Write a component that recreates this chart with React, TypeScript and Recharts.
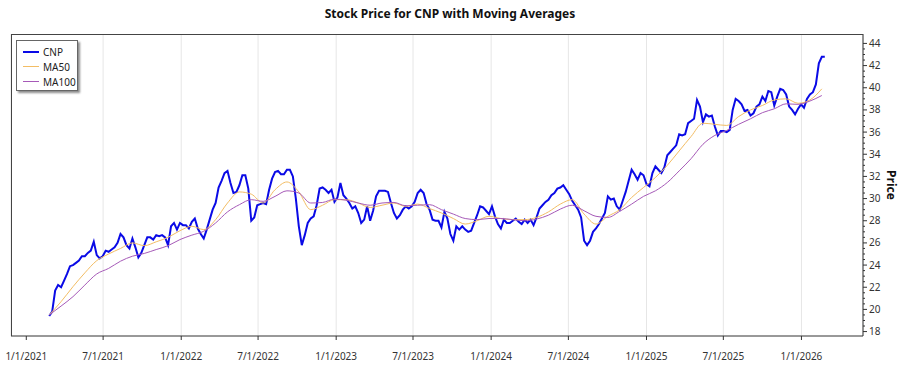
import { LineChart, Line, XAxis, YAxis, CartesianGrid } from "recharts";

// weekly closes, starting at the first trading week shown
const startDate = "2021-02-24";
const cnpWeekly = [
  19.4, 19.8, 21.7, 22.2, 22.0, 22.6, 23.2, 23.9, 24.0, 24.2,
  24.4, 24.8, 24.8, 25.1, 25.3, 26.1, 24.9, 24.6, 24.8, 25.3,
  25.2, 25.4, 25.6, 26.0, 26.8, 26.5, 25.8, 25.5, 26.4, 25.6,
  24.7, 25.1, 25.8, 26.5, 26.5, 26.3, 26.7, 26.6, 26.7, 26.5,
  25.8, 27.5, 27.8, 27.2, 27.8, 27.6, 27.6, 27.3, 27.9, 28.2,
  27.3, 26.8, 26.4, 27.2, 28.1, 29.0, 29.6, 31.0, 31.6, 32.3,
  32.5, 31.4, 30.5, 30.6, 31.2, 32.1, 32.1, 30.9, 28.0, 28.3,
  29.4, 29.5, 29.6, 29.5, 30.8, 31.8, 32.4, 32.5, 32.2, 32.2,
  32.6, 32.6, 32.0, 30.0, 27.5, 25.8, 26.7, 27.8, 28.2, 28.4,
  29.4, 30.9, 31.0, 30.8, 30.5, 30.8, 29.7, 30.1, 31.4, 30.3,
  30.0, 29.6, 29.1, 29.3, 28.7, 27.8, 28.1, 29.3, 28.0, 28.9,
  30.2, 30.7, 30.7, 30.7, 30.6, 29.6, 28.7, 28.2, 28.5, 29.0,
  29.3, 29.1, 29.3, 29.7, 30.5, 30.8, 30.5, 29.5, 29.0, 28.1,
  28.0, 28.0, 27.4, 28.8, 28.2, 26.8, 26.2, 27.5, 27.2, 27.5,
  27.2, 27.0, 27.1, 27.8, 28.5, 29.3, 29.2, 28.9, 28.6, 29.3,
  28.4, 27.7, 27.3, 28.1, 27.8, 27.8, 28.0, 28.2, 27.9, 27.7,
  28.1, 27.8, 28.1, 27.6, 28.3, 29.1, 29.4, 29.7, 29.9, 30.3,
  30.5, 30.9, 31.0, 31.2, 30.8, 30.4, 29.8, 29.4, 29.0, 28.3,
  26.2, 25.8, 26.2, 27.0, 27.3, 27.7, 28.2, 28.7, 30.2, 29.9,
  30.0, 29.3, 29.0, 29.8, 30.6, 31.6, 32.6, 32.2, 31.7, 32.3,
  32.1, 31.3, 31.1, 32.3, 32.9, 32.6, 32.3, 32.8, 33.9, 34.2,
  34.5, 34.8, 35.8, 35.7, 35.8, 36.8, 37.0, 37.2, 38.9, 38.3,
  36.9, 37.6, 37.4, 37.5, 36.5, 35.7, 36.1, 36.1, 36.0, 36.2,
  38.0, 39.0, 38.8, 38.5, 37.9, 38.0, 37.5, 37.7, 38.3, 38.5,
  39.2, 38.8, 39.7, 39.6, 38.4, 39.2, 39.9, 39.8, 39.4, 38.3,
  38.0, 37.6, 38.1, 38.5, 38.2, 39.0, 39.4, 39.6, 40.3, 42.2,
  42.8, 42.8,
];

// moving averages, one reading every 4 weeks
const maStepWeeks = 4;
const ma50 = [
  19.5, 20.7, 22.05, 23.3, 24.4, 25.0, 25.5, 26.0, 25.75, 26.1,
  26.5, 27.1, 27.5, 27.2, 28.1, 29.6, 30.6, 30.4, 29.6, 30.8,
  31.5, 30.6, 29.0, 29.4, 29.9, 29.9, 29.6, 29.2, 29.4, 29.6,
  29.3, 29.5, 29.1, 28.7, 28.2, 27.7, 28.0, 28.4, 28.2, 28.1,
  28.1, 28.3, 28.8, 29.5, 29.9, 28.6, 27.7, 28.4, 29.0, 30.1,
  31.0, 31.9, 33.0, 34.3, 35.6, 36.8, 36.7, 36.6, 37.4, 38.0,
  38.4, 38.9, 39.0, 38.6, 38.9, 39.9,
];
const ma100 = [
  19.5, 20.3, 21.15, 22.2, 23.2, 23.7, 24.35, 24.8, 25.05, 25.4,
  25.75, 26.3, 26.7, 27.05, 27.8, 28.8, 29.45, 29.9, 29.75, 30.2,
  30.7, 30.5, 29.6, 29.65, 29.95, 29.85, 29.6, 29.4, 29.6, 29.65,
  29.35, 29.4, 29.45, 29.0, 28.6, 28.2, 28.1, 28.2, 28.2, 28.1,
  28.0, 28.15, 28.5, 29.05, 29.4, 28.9, 28.4, 28.3, 28.85, 29.5,
  30.2, 30.7, 31.45, 32.5, 33.6, 34.9, 35.7, 36.15, 36.7, 37.2,
  37.75, 38.1, 38.55, 38.5, 38.8, 39.3,
];

const xTicks = [
  "2021-01-01", "2021-07-01", "2022-01-01", "2022-07-01", "2023-01-01", "2023-07-01",
  "2024-01-01", "2024-07-01", "2025-01-01", "2025-07-01", "2026-01-01",
];
const yTicks = [18, 20, 22, 24, 26, 28, 30, 32, 34, 36, 38, 40, 42, 44];
const seriesNames = ["CNP", "MA50", "MA100"];
const seriesColors = ["#0a0ae6", "#f3bd64", "#a65ab8"];

const DAY = 86400000;
const t0 = Date.parse(startDate);
const priceRows = cnpWeekly.map((v, i) => ({ t: t0 + i * 7 * DAY, price: v }));
const maRows = ma50.map((v, i) => ({ t: t0 + i * maStepWeeks * 7 * DAY, ma50: v, ma100: ma100[i] }));
const tEnd = priceRows[priceRows.length - 1].t;
const xDomain = [t0 - 90 * DAY, tEnd + 90 * DAY];
const xTickTimes = xTicks.map((d) => Date.parse(d));
const yAllTicks = yTicks.flatMap((v, i) => (i < yTicks.length - 1 ? [v, v + 0.5, v + 1, v + 1.5] : [v]));

const font = '"Segoe UI", "Noto Sans", sans-serif';
const W = 900;
const H = 375;
const margin = { top: 34, right: 0, bottom: 0, left: 11 };
const xAxisH = 39;
const yAxisW = 37;

const fmtDate = (t: number) => {
  const d = new Date(t);
  return `${d.getUTCMonth() + 1}/${d.getUTCDate()}/${d.getUTCFullYear()}`;
};

function PriceTick(props: any) {
  const { x, y, payload } = props;
  const v = payload.value as number;
  const major = yTicks.includes(v);
  return (
    <g>
      <line x1={x} x2={x + (major ? 4 : 2)} y1={y} y2={y} stroke="#333" />
      {major && (
        <text x={x + 6} y={y} dy={3.5} fontSize={10} fill="#333" fontFamily={font}>
          {v}
        </text>
      )}
    </g>
  );
}

export default function App() {
  return (
    <div style={{ position: "relative", width: W, height: H, fontFamily: font, background: "#fff" }}>
      <style>{`body{margin:0}`}</style>
      <div
        style={{
          position: "absolute", top: 5, left: 0, width: W, textAlign: "center",
          fontSize: 12, fontWeight: 700, color: "#111",
        }}
      >
        Stock Price for CNP with Moving Averages
      </div>
      <LineChart width={W} height={H} margin={margin}>
        <CartesianGrid horizontal={false} stroke="#e6e6e6" />
        <XAxis
          dataKey="t"
          type="number"
          scale="time"
          domain={xDomain}
          allowDataOverflow
          ticks={xTickTimes}
          tickFormatter={fmtDate}
          height={xAxisH}
          tickSize={4}
          tickMargin={13}
          stroke="#333"
          tick={{ fontSize: 10, fill: "#333", fontFamily: font }}
        />
        <YAxis
          orientation="right"
          domain={[17.6, 44.85]}
          allowDataOverflow
          ticks={yAllTicks}
          interval={0}
          width={yAxisW}
          tickSize={0}
          tickMargin={0}
          tickLine={false}
          stroke="#333"
          tick={<PriceTick />}
        />
        <Line data={priceRows} dataKey="price" name={seriesNames[0]} stroke={seriesColors[0]} strokeWidth={2} dot={false} type="linear" isAnimationActive={false} />
        <Line data={maRows} dataKey="ma50" name={seriesNames[1]} stroke={seriesColors[1]} strokeWidth={1} dot={false} type="monotone" isAnimationActive={false} />
        <Line data={maRows} dataKey="ma100" name={seriesNames[2]} stroke={seriesColors[2]} strokeWidth={1} dot={false} type="monotone" isAnimationActive={false} />
      </LineChart>
      {/* plot frame */}
      <div
        style={{
          position: "absolute", left: margin.left, top: margin.top,
          width: W - margin.left - yAxisW, height: H - margin.top - xAxisH,
          borderTop: "1px solid #444", borderLeft: "1px solid #444", boxSizing: "border-box", pointerEvents: "none",
        }}
      />
      <div
        style={{
          position: "absolute", left: 891, top: 185, transform: "translate(-50%, -50%) rotate(90deg)",
          fontSize: 12, fontWeight: 700, color: "#111", whiteSpace: "nowrap",
        }}
      >
        Price
      </div>
      <div
        style={{
          position: "absolute", left: 16, top: 40, width: 62, height: 51, background: "#fff",
          border: "1px solid #666", boxShadow: "2px 2px 2px rgba(0,0,0,0.45)", boxSizing: "border-box",
          padding: "3px 0 0 6px",
        }}
      >
        {seriesNames.map((n, i) => (
          <div key={n} style={{ display: "flex", alignItems: "center", height: 15, fontSize: 10, color: "#222" }}>
            <span style={{ display: "inline-block", width: 16, height: i === 0 ? 2 : 1, background: seriesColors[i], marginRight: 4 }} />
            {n}
          </div>
        ))}
      </div>
    </div>
  );
}
